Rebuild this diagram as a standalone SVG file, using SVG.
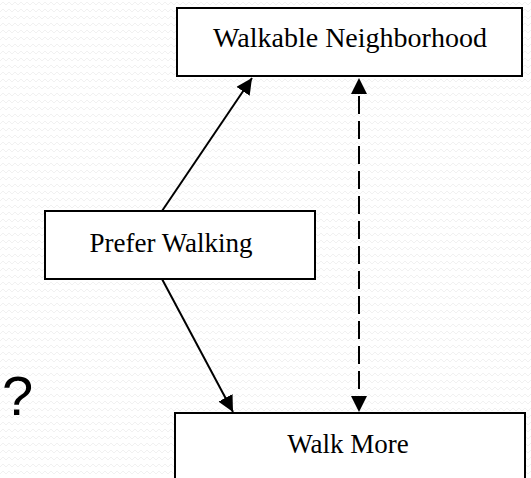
<svg xmlns="http://www.w3.org/2000/svg" width="531" height="478" viewBox="0 0 531 478">
<defs>
<pattern id="bg" width="12" height="7" patternUnits="userSpaceOnUse">
<path d="M0 5 L3 2 L6 5 L9 2 L12 5" fill="none" stroke="#f1f1f1" stroke-width="1"/>
</pattern>
<marker id="ah" viewBox="0 0 16 16" refX="16" refY="8" markerWidth="16" markerHeight="16" markerUnits="userSpaceOnUse" orient="auto">
<path d="M0 0 L16 8 L0 16 Z" fill="#000"/>
</marker>
<style>
.box{fill:#fff;stroke:#000;stroke-width:2}
.lbl{font-family:"Liberation Serif","Times New Roman",serif;font-size:27px;fill:#000;text-anchor:middle}
.edge{stroke:#000;stroke-width:2;fill:none}
</style>
</defs>
<rect width="531" height="478" fill="#fff"/>
<rect width="531" height="478" fill="url(#bg)"/>
<text x="2" y="415" font-family="Liberation Sans, Arial, sans-serif" font-size="56" fill="#000">?</text>
<g id="connectors">
<line class="edge" x1="162" y1="211" x2="252" y2="78" marker-end="url(#ah)"/>
<line class="edge" x1="162" y1="279" x2="233" y2="412" marker-end="url(#ah)"/>
<line class="edge" x1="359" y1="96" x2="359" y2="396" stroke-dasharray="18 7"/>
<path d="M359 78 L351 94 L367 94 Z" fill="#000"/>
<path d="M359 412 L351 396 L367 396 Z" fill="#000"/>
</g>
<g id="walkable">
<rect class="box" x="177" y="8" width="345" height="68"/>
<text class="lbl" x="350" y="47" style="font-size:28px">Walkable Neighborhood</text>
</g>
<g id="prefer">
<rect class="box" x="45" y="211" width="270" height="68"/>
<text class="lbl" x="171" y="252">Prefer Walking</text>
</g>
<g id="walkmore">
<rect class="box" x="175" y="413" width="350" height="80"/>
<text class="lbl" x="348" y="453">Walk More</text>
</g>
</svg>
